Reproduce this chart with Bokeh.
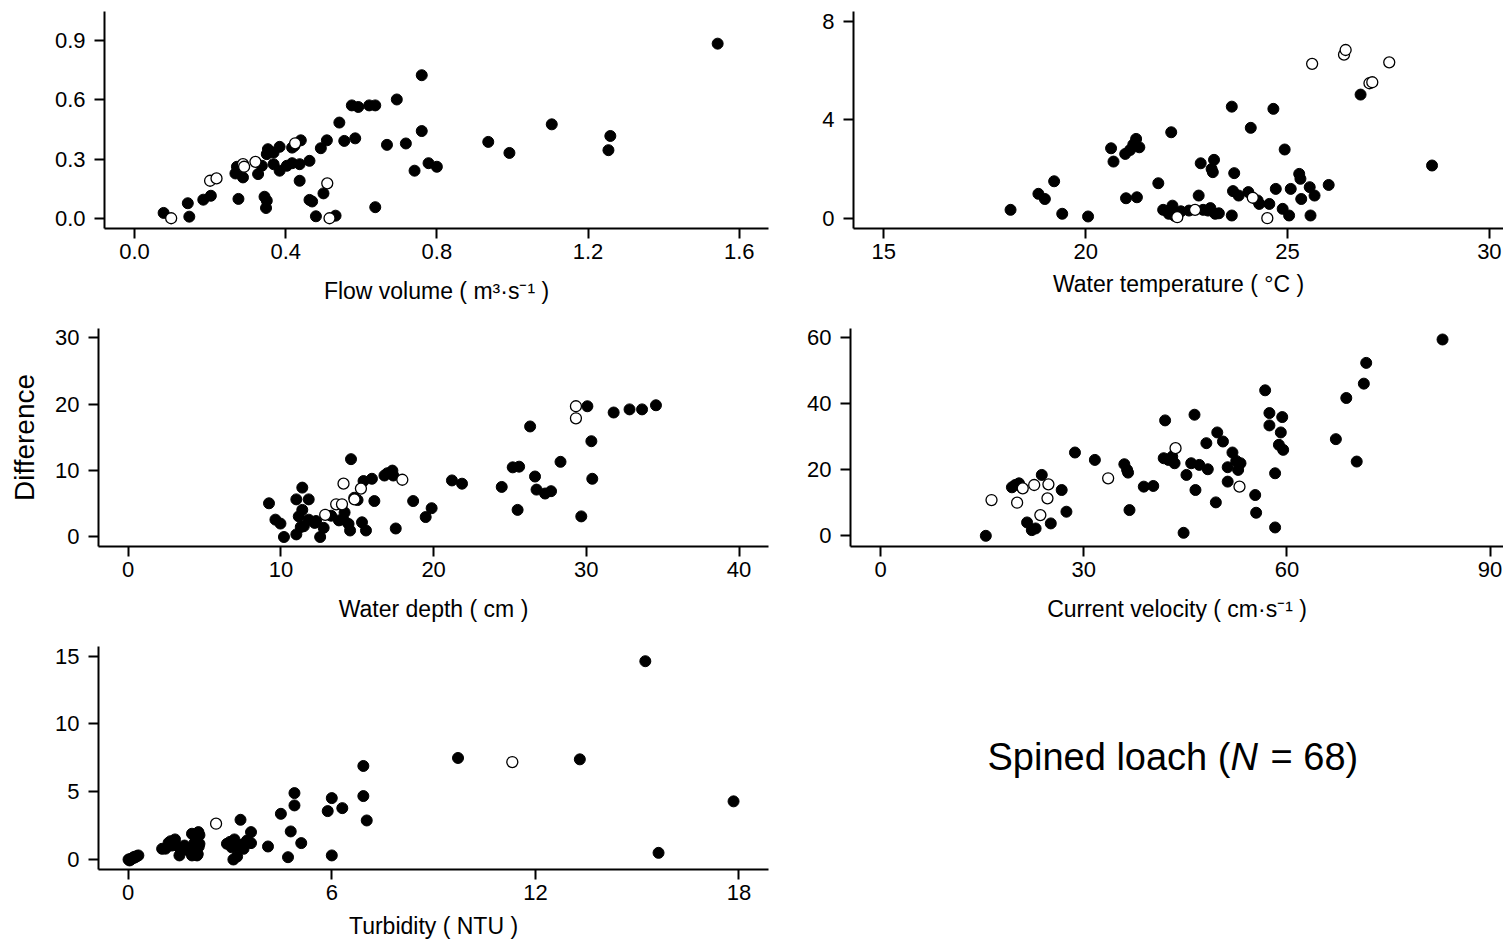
from bokeh.plotting import figure
from bokeh.layouts import column, row
from bokeh.models import Range1d, FixedTicker, NumeralTickFormatter, Label
from bokeh.embed import file_html
from bokeh.resources import INLINE

# ---------------- data ----------------
flow_x = [1.543, 0.760, 0.694, 0.575, 0.592, 0.621, 0.637, 0.542, 1.104, 1.259, 1.254, 0.760, 0.936, 0.992,
          0.718, 0.668, 0.555, 0.584, 0.509, 0.493, 0.778, 0.800, 0.741, 0.637, 0.532, 0.480, 0.500, 0.463,
          0.470, 0.463, 0.437, 0.437, 0.440, 0.423, 0.417, 0.384, 0.403, 0.417, 0.384, 0.368, 0.353, 0.368,
          0.350, 0.337, 0.327, 0.344, 0.350, 0.348, 0.287, 0.275, 0.271, 0.267, 0.275, 0.202, 0.182, 0.141,
          0.145, 0.077, 0.280]
flow_y = [0.885, 0.725, 0.602, 0.572, 0.564, 0.572, 0.572, 0.485, 0.476, 0.417, 0.345, 0.442, 0.387, 0.331,
          0.379, 0.372, 0.392, 0.405, 0.395, 0.355, 0.279, 0.261, 0.241, 0.056, 0.013, 0.010, 0.126, 0.093,
          0.085, 0.291, 0.190, 0.274, 0.395, 0.367, 0.358, 0.362, 0.266, 0.279, 0.241, 0.274, 0.350, 0.333,
          0.325, 0.266, 0.224, 0.109, 0.089, 0.052, 0.207, 0.241, 0.261, 0.227, 0.098, 0.114, 0.094, 0.076,
          0.008, 0.027, 0.250]
flow_open_x = [0.097, 0.200, 0.217, 0.287, 0.290, 0.320, 0.425, 0.510, 0.516]
flow_open_y = [0.000, 0.190, 0.202, 0.274, 0.261, 0.286, 0.380, 0.177, 0.000]

temp_x = [26.81, 23.62, 24.65, 24.09, 22.12, 24.93, 20.63, 20.69, 20.98, 21.18, 21.25, 21.33, 21.10, 22.85,
          23.18, 23.12, 23.15, 23.68, 25.29, 25.32, 26.02, 25.55, 25.67, 24.71, 25.08, 25.34, 23.65, 23.79,
          24.03, 24.26, 24.30, 24.55, 24.88, 25.04, 25.57, 23.62, 21.80, 22.80, 21.00, 21.27, 19.22, 18.83,
          18.99, 19.42, 18.14, 20.06, 21.92, 22.15, 22.06, 22.36, 22.56, 22.91, 23.09, 23.21, 23.03, 28.58,
          22.20, 23.30]
temp_y = [5.02, 4.53, 4.44, 3.67, 3.49, 2.79, 2.84, 2.30, 2.61, 2.99, 3.22, 2.88, 2.77, 2.23, 2.37, 2.00,
          1.87, 1.83, 1.80, 1.60, 1.35, 1.26, 0.92, 1.19, 1.19, 0.78, 1.10, 0.92, 1.06, 0.72, 0.58, 0.58,
          0.38, 0.11, 0.11, 0.11, 1.42, 0.92, 0.81, 0.85, 1.50, 0.99, 0.78, 0.18, 0.34, 0.07, 0.34, 0.51,
          0.18, 0.28, 0.31, 0.34, 0.41, 0.18, 0.31, 2.14, 0.10, 0.20]
temp_open_x = [25.61, 26.40, 26.44, 27.52, 27.03, 27.10, 24.50, 24.14, 22.27, 22.71]
temp_open_y = [6.27, 6.64, 6.83, 6.33, 5.48, 5.52, 0.00, 0.83, 0.04, 0.34]

depth_x = [30.07, 31.79, 32.83, 33.65, 34.56, 26.32, 30.33, 28.31, 25.18, 25.60, 26.64, 30.39, 24.46, 26.74,
           27.30, 27.69, 25.50, 29.67, 21.20, 21.86, 18.66, 19.87, 19.48, 17.52, 14.59, 16.97, 17.30, 16.78,
           17.36, 15.96, 15.41, 15.02, 16.12, 9.22, 11.01, 11.82, 11.40, 11.40, 9.64, 9.97, 10.20, 11.01,
           12.57, 11.50, 11.82, 12.21, 12.80, 13.29, 14.17, 14.10, 14.43, 14.53, 15.31, 15.57, 11.17, 12.30,
           13.80, 11.30, 14.80]
depth_y = [19.67, 18.73, 19.20, 19.20, 19.82, 16.63, 14.41, 11.31, 10.48, 10.58, 9.10, 8.76, 7.53, 7.13,
           6.54, 6.89, 4.08, 3.10, 8.51, 8.02, 5.41, 4.33, 3.00, 1.28, 11.71, 9.59, 9.99, 9.25, 9.25, 8.76,
           8.42, 5.56, 5.41, 5.07, 5.66, 5.66, 7.43, 4.08, 2.61, 2.02, 0.00, 0.39, 0.00, 1.62, 2.61, 2.12,
           1.38, 3.20, 3.69, 2.61, 1.97, 0.98, 2.21, 0.98, 3.10, 2.40, 2.50, 1.50, 5.90]
depth_open_x = [29.32, 29.32, 14.10, 17.95, 15.24, 14.82, 13.62, 14.00, 12.90]
depth_open_y = [19.67, 17.86, 8.02, 8.61, 7.28, 5.66, 4.92, 4.92, 3.34]

vel_x = [82.98, 71.71, 71.36, 68.77, 67.23, 70.31, 56.79, 57.42, 57.42, 59.31, 59.10, 58.82, 59.45, 58.26,
         58.26, 55.32, 55.46, 42.02, 46.36, 49.72, 50.56, 48.11, 51.96, 52.52, 53.15, 52.80, 51.26, 51.26,
         49.51, 41.81, 43.07, 43.42, 45.87, 47.06, 48.32, 45.17, 46.50, 44.75, 36.00, 36.41, 36.55, 36.76,
         38.87, 40.27, 31.65, 28.71, 26.75, 27.45, 23.81, 19.40, 20.45, 19.89, 21.64, 22.34, 22.90, 25.14,
         15.55, 42.50]
vel_y = [59.49, 52.40, 46.11, 41.76, 29.29, 22.50, 44.09, 37.20, 33.45, 35.98, 31.32, 27.57, 26.05, 18.95,
         2.53, 12.36, 6.99, 34.97, 36.69, 31.32, 28.58, 28.07, 25.24, 22.70, 21.99, 19.97, 20.78, 16.42,
         10.13, 23.51, 24.02, 21.99, 21.99, 21.49, 20.17, 18.45, 13.88, 0.91, 21.69, 19.97, 19.15, 7.80,
         14.90, 15.10, 23.00, 25.24, 13.88, 7.30, 18.45, 14.70, 15.90, 15.40, 4.05, 1.72, 2.23, 3.75,
         0.00, 23.00]
vel_open_x = [16.39, 20.17, 21.00, 22.69, 24.79, 24.65, 23.60, 33.61, 43.56, 53.00]
vel_open_y = [10.84, 10.03, 14.39, 15.40, 15.60, 11.35, 6.28, 17.43, 26.55, 14.90]

turb_x = [15.24, 9.72, 13.31, 17.84, 15.63, 6.93, 6.93, 7.03, 6.00, 5.88, 6.31, 6.00, 4.90, 4.90, 4.50,
          4.79, 5.10, 4.71, 4.12, 3.62, 3.62, 3.31, 3.13, 2.91, 3.40, 3.10, 3.21, 2.07, 1.88, 2.10, 2.03,
          1.51, 1.88, 1.38, 1.19, 1.00, 1.29, 1.66, 0.26, 0.01, 0.12, 0.04, 0.10, 0.20, 1.10, 1.50, 2.00,
          2.10, 1.90, 3.20, 3.50, 3.00, 0.05, 0.15, 1.75, 2.05, 3.35, 1.25, 0.30, 2.00, 1.60, 0.08, 3.05,
          1.95, 2.08, 0.18]
turb_y = [14.63, 7.49, 7.39, 4.29, 0.49, 6.90, 4.68, 2.88, 4.53, 3.57, 3.79, 0.30, 4.90, 3.99, 3.37,
          2.07, 1.21, 0.17, 0.96, 2.02, 1.21, 2.93, 1.48, 1.16, 0.79, 0.00, 0.22, 2.02, 1.90, 1.16, 0.30,
          0.30, 0.30, 1.48, 1.23, 0.79, 1.03, 1.03, 0.25, 0.00, 0.10, -0.07, 0.05, 0.15, 0.80, 0.90, 1.50,
          1.80, 0.60, 1.00, 1.40, 1.30, 0.02, 0.12, 0.70, 0.40, 1.10, 1.35, 0.30, 0.35, 0.85, 0.00, 0.90,
          1.20, 0.95, 0.20]
turb_open_x = [2.59, 11.32]
turb_open_y = [2.64, 7.19]

flow_xticks = [0, 0.4, 0.8, 1.2, 1.6]
flow_yticks = [0, 0.3, 0.6, 0.9]
temp_xticks = [15, 20, 25, 30]
temp_yticks = [0, 4, 8]
depth_xticks = [0, 10, 20, 30, 40]
depth_yticks = [0, 10, 20, 30]
vel_xticks = [0, 30, 60, 90]
vel_yticks = [0, 20, 40, 60]
turb_xticks = [0, 6, 12, 18]
turb_yticks = [0, 5, 10, 15]

FONT = "Liberation Sans"


def panel(xs, ys, oxs, oys, xr, yr, xticks, yticks, xlabel, w, h, bl, br, bt, bb,
          ylabel=None, fmt=None, title_standoff=9):
    p = figure(width=w, height=h, x_range=Range1d(*xr), y_range=Range1d(*yr),
               output_backend="svg", toolbar_location=None,
               min_border_left=bl, min_border_right=br, min_border_top=bt, min_border_bottom=bb)
    p.outline_line_color = None
    p.xgrid.visible = False
    p.ygrid.visible = False
    for ax in (p.xaxis[0], p.yaxis[0]):
        ax.axis_line_width = 2
        ax.axis_line_color = "black"
        ax.major_tick_line_width = 2
        ax.major_tick_line_color = "black"
        ax.major_tick_out = 10
        ax.major_tick_in = 0
        ax.minor_tick_line_color = None
        ax.major_label_text_font = FONT
        ax.major_label_text_font_size = "22px"
        ax.major_label_text_color = "black"
        ax.axis_label_text_font = FONT
        ax.axis_label_text_font_style = "normal"
        ax.axis_label_text_color = "black"
    p.xaxis.ticker = FixedTicker(ticks=xticks)
    p.yaxis.ticker = FixedTicker(ticks=yticks)
    if fmt:
        p.xaxis.formatter = NumeralTickFormatter(format=fmt[0])
        p.yaxis.formatter = NumeralTickFormatter(format=fmt[1])
    p.xaxis.major_label_standoff = 5
    p.yaxis.major_label_standoff = 9
    p.xaxis.axis_label = xlabel
    p.xaxis.axis_label_text_font_size = "23px"
    p.xaxis.axis_label_standoff = title_standoff
    if ylabel:
        p.yaxis.axis_label = ylabel
        p.yaxis.axis_label_text_font_size = "28px"
        p.yaxis.axis_label_standoff = 12
    p.scatter(xs, ys, marker="circle", size=11, fill_color="black", line_color="black", line_width=1)
    p.scatter(oxs, oys, marker="circle", size=11, fill_color="white", line_color="black", line_width=1.3)
    return p


p1 = panel(flow_x, flow_y, flow_open_x, flow_open_y, (-0.0794, 1.6775), (-0.052, 1.048),
           flow_xticks, flow_yticks, "Flow volume ( m³·s⁻¹ )", 780, 310, 104, 12, 10, 82,
           fmt=("0.0", "0.0"), title_standoff=16)
p2 = panel(temp_x, temp_y, temp_open_x, temp_open_y, (14.25, 30.35), (-0.418, 8.394),
           temp_xticks, temp_yticks, "Water temperature ( °C )", 723, 310, 73, 0, 11, 82,
           title_standoff=9)
p3 = panel(depth_x, depth_y, depth_open_x, depth_open_y, (-1.945, 41.93), (-1.43, 31.37),
           depth_xticks, depth_yticks, "Water depth ( cm )", 780, 320, 98, 12, 18, 79,
           ylabel="Difference", title_standoff=16)
p4 = panel(vel_x, vel_y, vel_open_x, vel_open_y, (-4.43, 91.98), (-3.24, 62.82),
           vel_xticks, vel_yticks, "Current velocity ( cm·s⁻¹ )", 723, 320, 70, 0, 18, 84,
           title_standoff=16)
p5 = panel(turb_x, turb_y, turb_open_x, turb_open_y, (-0.875, 18.87), (-0.738, 15.716),
           turb_xticks, turb_yticks, "Turbidity ( NTU )", 780, 311, 98, 12, 16, 72,
           title_standoff=10)

t = figure(width=723, height=311, x_range=Range1d(0, 1), y_range=Range1d(0, 1),
           output_backend="svg", toolbar_location=None, min_border=0,
           x_axis_location=None, y_axis_location=None)
t.outline_line_color = None
t.xgrid.visible = False
t.ygrid.visible = False
common = dict(x_units="screen", y_units="screen", y=113, text_font=FONT,
              text_font_size="38px", text_color="black", text_baseline="alphabetic")
t.add_layout(Label(x=207, text="Spined loach (", **common))
t.add_layout(Label(x=450, text="N", text_font_style="italic", **common))
t.add_layout(Label(x=490, text="= 68)", **common))

layout = column(row(p1, p2), row(p3, p4), row(p5, t))

open("out.html", "w").write(file_html(layout, INLINE))
